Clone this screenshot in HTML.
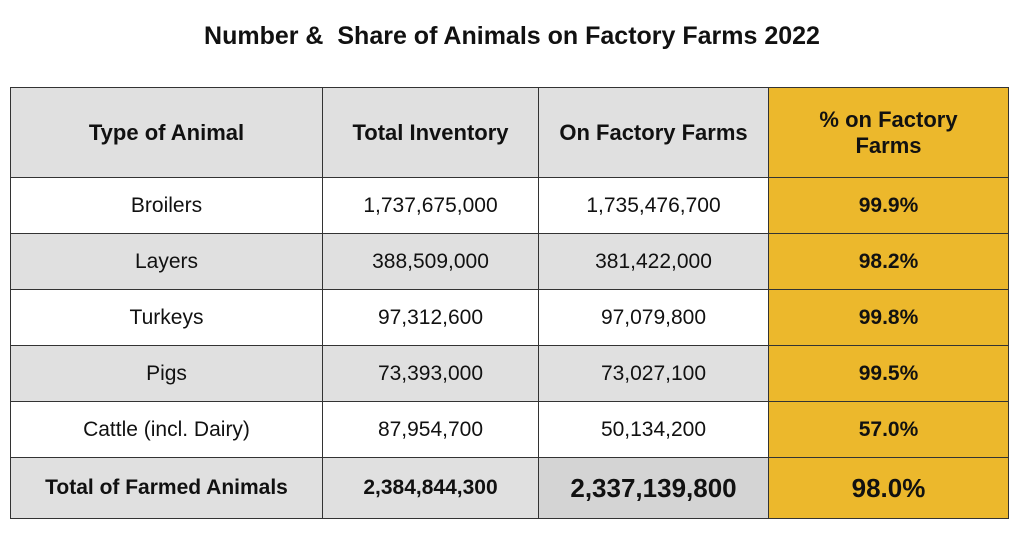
<!DOCTYPE html>
<html><head><style>
html,body{margin:0;padding:0;background:#fff;width:1024px;height:535px;overflow:hidden}
body{position:relative;font-family:"Liberation Sans",sans-serif;color:#111}
.t{position:absolute;left:0;width:1024px;top:22px;text-align:center;font-weight:bold;font-size:25px}
table{position:absolute;left:10px;top:87px;border-collapse:collapse;table-layout:fixed}
td{border:1.5px solid #333;text-align:center;font-size:21px;padding:0}
.g{background:#e0e0e0}.y{background:#ecb82c;font-weight:bold}.b{font-weight:bold}
</style></head><body>
<div class="t">Number &amp;&nbsp; Share of Animals on Factory Farms 2022</div>
<table>
<colgroup><col style="width:312px"><col style="width:216px"><col style="width:230px"><col style="width:240px"></colgroup>
<tr style="height:90px"><td class="g b" style="font-size:22px">Type of Animal</td><td class="g b" style="font-size:22px">Total Inventory</td><td class="g b" style="font-size:22px">On Factory Farms</td><td class="y" style="font-size:22px">% on Factory<br>Farms</td></tr>
<tr style="height:56px"><td>Broilers</td><td>1,737,675,000</td><td>1,735,476,700</td><td class="y">99.9%</td></tr>
<tr style="height:56px" class="g"><td>Layers</td><td>388,509,000</td><td>381,422,000</td><td class="y">98.2%</td></tr>
<tr style="height:56px"><td>Turkeys</td><td>97,312,600</td><td>97,079,800</td><td class="y">99.8%</td></tr>
<tr style="height:56px" class="g"><td>Pigs</td><td>73,393,000</td><td>73,027,100</td><td class="y">99.5%</td></tr>
<tr style="height:56px"><td>Cattle (incl. Dairy)</td><td>87,954,700</td><td>50,134,200</td><td class="y">57.0%</td></tr>
<tr style="height:61px"><td class="g b">Total of Farmed Animals</td><td class="g b">2,384,844,300</td><td class="b" style="background:#d4d4d4;font-size:26px">2,337,139,800</td><td class="y" style="font-size:26px">98.0%</td></tr>
</table>
</body></html>
